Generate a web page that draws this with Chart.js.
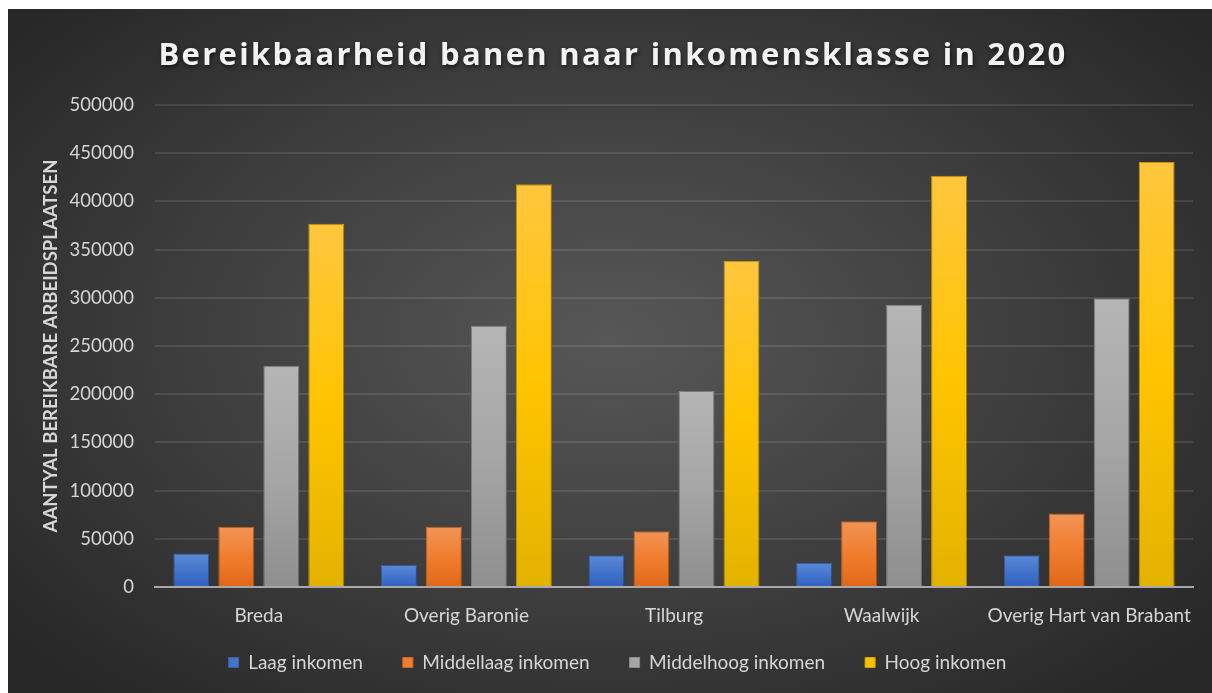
<!DOCTYPE html>
<html>
<head>
<meta charset="utf-8">
<script src="https://cdn.jsdelivr.net/npm/chart.js@4/dist/chart.umd.min.js"></script>
<style>
  html, body { margin: 0; padding: 0; background: #fff; width: 1212px; height: 693px; overflow: hidden; }
  #wrap {
    position: absolute; left: 8px; top: 9px; width: 1204px; height: 684px;
    background: radial-gradient(ellipse 65% 70% at 50% 48%, #575757 0%, #3d3d3d 55%, #272727 100%);
  }
  canvas { display: block; }
</style>
</head>
<body>
<div id="wrap"><canvas id="chart" width="1204" height="684"></canvas></div>
<script>
// gegevens
const categories = ['Breda', 'Overig Baronie', 'Tilburg', 'Waalwijk', 'Overig Hart van Brabant'];
const laagInkomen = [34700, 22800, 32900, 24900, 32900];
const middellaagInkomen = [62300, 62500, 57900, 68300, 76300];
const middelhoogInkomen = [229600, 271000, 203300, 292700, 299600];
const hoogInkomen = [376800, 417800, 338200, 426700, 441000];
const yTicks = [0, 50000, 100000, 150000, 200000, 250000, 300000, 350000, 400000, 450000, 500000];

const titleText = 'Bereikbaarheid banen naar inkomensklasse in 2020';
const yTitle = 'AANTYAL BEREIKBARE ARBEIDSPLAATSEN';
const labelColor = '#d6d6d6';
const fontFam = 'Lato, "Open Sans", sans-serif';

// verloop per staaf: licht boven, donker onder
function barGradient(stops) {
  return (c) => {
    const chart = c.chart;
    const ys = chart.scales.y;
    if (!ys || c.raw == null) return stops[stops.length - 1][1];
    const top = ys.getPixelForValue(c.raw);
    const bottom = ys.getPixelForValue(0);
    if (!isFinite(top) || !isFinite(bottom) || top === bottom) return stops[1][1];
    const g = chart.ctx.createLinearGradient(0, top, 0, bottom);
    stops.forEach(s => g.addColorStop(s[0], s[1]));
    return g;
  };
}

const series = [
  { label: 'Laag inkomen', data: laagInkomen, solid: '#4472c4', border: '#3a64b0',
    stops: [[0, '#5b88d8'], [0.5, '#4474cc'], [1, '#2f62be']] },
  { label: 'Middellaag inkomen', data: middellaagInkomen, solid: '#ed7d31', border: '#d56a22',
    stops: [[0, '#f29456'], [0.5, '#f07d2e'], [1, '#e06818']] },
  { label: 'Middelhoog inkomen', data: middelhoogInkomen, solid: '#a5a5a5', border: '#8c8c8c',
    stops: [[0, '#b5b5b5'], [0.5, '#a6a6a6'], [1, '#8f8f8f']] },
  { label: 'Hoog inkomen', data: hoogInkomen, solid: '#ffc000', border: '#d9a400',
    stops: [[0, '#ffc63e'], [0.5, '#ffc400'], [1, '#e3b200']] }
];

// titel met letterafstand en schaduw
const titlePlugin = {
  id: 'spacedTitle',
  afterDraw(chart) {
    const ctx = chart.ctx;
    ctx.save();
    ctx.font = 'bold 31px "Open Sans", sans-serif';
    if ('letterSpacing' in ctx) ctx.letterSpacing = '2.3px';
    ctx.textAlign = 'center';
    ctx.textBaseline = 'middle';
    ctx.shadowColor = 'rgba(0,0,0,0.6)';
    ctx.shadowBlur = 4;
    ctx.shadowOffsetX = 1;
    ctx.shadowOffsetY = 2;
    ctx.fillStyle = '#f2f2f2';
    ctx.fillText(titleText, chart.width / 2 + 3, 47);
    ctx.restore();
  }
};

const shadowPlugin = {
  id: 'barShadow',
  beforeDatasetsDraw(chart) {
    const ctx = chart.ctx;
    ctx.save();
    ctx.shadowColor = 'rgba(0,0,0,0.45)';
    ctx.shadowBlur = 5;
    ctx.shadowOffsetX = 1;
    ctx.shadowOffsetY = 1;
  },
  afterDatasetsDraw(chart) {
    chart.ctx.restore();
  }
};

// legenda iets naar rechts, en x-labels niet afknippen
const layoutTweaks = {
  id: 'layoutTweaks',
  afterLayout(chart) {
    if (chart.legend) {
      chart.legend.left += 17;
      chart.legend.right += 17;
    }
    if (chart.scales.x) chart.scales.x.bottom += 40;
  }
};

new Chart(document.getElementById('chart'), {
  type: 'bar',
  data: {
    labels: categories,
    datasets: series.map(s => ({
      label: s.label,
      data: s.data,
      backgroundColor: barGradient(s.stops),
      borderColor: s.border,
      borderWidth: 1,
      borderSkipped: 'bottom',
      barPercentage: 0.8,
      categoryPercentage: 0.867
    }))
  },
  options: {
    responsive: false,
    animation: false,
    layout: { padding: { top: 96, right: 19, bottom: 11, left: 0 } },
    plugins: {
      title: { display: false },
      tooltip: { enabled: false },
      legend: {
        position: 'bottom',
        labels: {
          color: labelColor,
          font: { family: fontFam, size: 19 },
          boxWidth: 10,
          boxHeight: 10,
          padding: 40,
          generateLabels(chart) {
            return series.map((s, i) => ({
              text: s.label,
              fillStyle: s.solid,
              strokeStyle: s.border,
              lineWidth: 1,
              fontColor: labelColor,
              hidden: false,
              datasetIndex: i
            }));
          }
        }
      }
    },
    scales: {
      x: {
        afterFit(scale) { scale.height = 26; },
        grid: { display: false },
        border: { display: true, color: '#a8a8a8', width: 2 },
        ticks: {
          color: labelColor,
          font: { family: fontFam, size: 19 },
          padding: 9,
          maxRotation: 0,
          minRotation: 0,
          autoSkip: false
        }
      },
      y: {
        min: 0,
        max: 500000,
        afterBuildTicks(scale) { scale.ticks = yTicks.map(v => ({ value: v })); },
        afterFit(scale) { scale.width = 147; },
        grid: { color: 'rgba(255,255,255,0.1)', lineWidth: 2, drawTicks: false },
        border: { display: false },
        ticks: {
          color: labelColor,
          font: { family: fontFam, size: 18.5 },
          padding: 21,
          callback: (v) => String(v)
        },
        title: {
          display: true,
          text: yTitle,
          color: labelColor,
          font: { family: fontFam, size: 18.5, weight: 'bold' },
          padding: { top: 32, bottom: 0 }
        }
      }
    }
  },
  plugins: [shadowPlugin, titlePlugin, layoutTweaks]
});
</script>
</body>
</html>
